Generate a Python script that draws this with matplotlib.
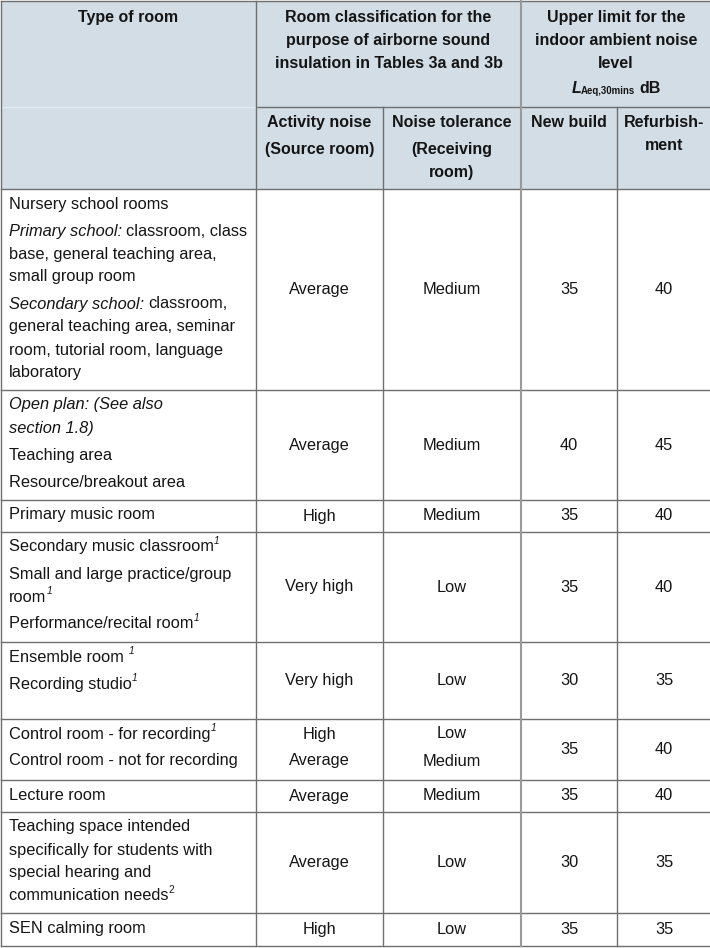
import matplotlib
matplotlib.use("Agg")
import matplotlib.pyplot as plt

## table content -------------------------------------------------------
## each room cell: list of paragraphs, paragraph: list of lines,
## line: list of (text, style) with style n=normal, i=italic,
## si=superscript italic, su=superscript upright
room_types = [
    [[[("Nursery school rooms", "n")]],
     [[("Primary school:", "i"), (" classroom, class", "n")],
      [("base, general teaching area,", "n")],
      [("small group room", "n")]],
     [[("Secondary school:", "i"), (" classroom,", "n")],
      [("general teaching area, seminar", "n")],
      [("room, tutorial room, language", "n")],
      [("laboratory", "n")]]],
    [[[("Open plan: (See also", "i")],
      [("section 1.8)", "i")]],
     [[("Teaching area", "n")]],
     [[("Resource/breakout area", "n")]]],
    [[[("Primary music room", "n")]]],
    [[[("Secondary music classroom", "n"), ("1", "si")]],
     [[("Small and large practice/group", "n")],
      [("room", "n"), ("1", "si")]],
     [[("Performance/recital room", "n"), ("1", "si")]]],
    [[[("Ensemble room ", "n"), ("1", "si")]],
     [[("Recording studio", "n"), ("1", "si")]]],
    [[[("Control room - for recording", "n"), ("1", "si")]],
     [[("Control room - not for recording", "n")]]],
    [[[("Lecture room", "n")]]],
    [[[("Teaching space intended", "n")],
      [("specifically for students with", "n")],
      [("special hearing and", "n")],
      [("communication needs", "n"), ("2", "su")]]],
    [[[("SEN calming room", "n")]]],
]
activity_noise = ["Average", "Average", "High", "Very high", "Very high",
                  ["High", "Average"], "Average", "Average", "High"]
noise_tolerance = ["Medium", "Medium", "Medium", "Low", "Low",
                   ["Low", "Medium"], "Medium", "Low", "Low"]
new_build = [35, 40, 35, 35, 30, 35, 35, 30, 35]
refurbishment = [40, 45, 40, 40, 35, 40, 40, 35, 35]

head_room = ["Type of room"]
head_class = ["Room classification for the", "purpose of airborne sound",
              "insulation in Tables 3a and 3b"]
head_limit = ["Upper limit for the", "indoor ambient noise", "level"]
head_sub = [[["Activity noise"], ["(Source room)"]],
            [["Noise tolerance"], ["(Receiving", "room)"]],
            [["New build"]],
            [["Refurbish-", "ment"]]]

## layout (pixels) -------------------------------------------------------
W, H = 710, 948
col_edges = [1, 256, 383, 521, 617, 711]
head_mid = 107
row_edges = [189, 390, 500, 532, 642, 719, 780, 812, 913, 946]
FS = 11.8
FS_B = 11.5
LINE = 23
PARA = 27
TXT = "#151515"
HEAD_BG = "#d2dde6"
GRID = "#6f6f6f"
FONT = "Liberation Sans"

fig = plt.figure(figsize=(W / 100, H / 100), dpi=100)
ax = fig.add_axes([0, 0, 1, 1])
ax.set_xlim(0, W)
ax.set_ylim(H, 0)
ax.axis("off")
renderer = fig.canvas.get_renderer()


def seg_props(style):
    p = dict(fontsize=FS, color=TXT, va="center", ha="left", family=FONT)
    dy = 0
    if style == "i":
        p["style"] = "italic"
    elif style in ("si", "su"):
        p["fontsize"] = FS * 0.62
        dy = -6
        if style == "si":
            p["style"] = "italic"
    return p, dy


def space_width(fs, **kw):
    a = ax.text(0, 0, "a a", fontsize=fs, family=FONT, **kw)
    b = ax.text(0, 0, "aa", fontsize=fs, family=FONT, **kw)
    w = a.get_window_extent(renderer).width - b.get_window_extent(renderer).width
    a.remove()
    b.remove()
    return w


SP = space_width(FS)


def draw_line(x, y, segs):
    # mixed-style line, pieces placed one after the other
    for txt, style in segs:
        lead = len(txt) - len(txt.lstrip(" "))
        trail = len(txt) - len(txt.rstrip(" "))
        x += lead * SP
        p, dy = seg_props(style)
        t = ax.text(x, y + dy, txt.strip(" "), **p)
        x += t.get_window_extent(renderer).width + trail * SP
    return x


## header background and cells
ax.add_patch(plt.Rectangle((col_edges[0], 1), col_edges[-1] - col_edges[0],
                           row_edges[0] - 1, color=HEAD_BG, lw=0, zorder=0))

hb = dict(fontsize=FS_B, color=TXT, va="center", ha="center", family=FONT,
          weight="bold")
cx0 = (col_edges[0] + col_edges[1]) / 2
for k, s in enumerate(head_room):
    ax.text(cx0, 17 + k * LINE, s, **hb)
cx12 = (col_edges[1] + col_edges[3]) / 2
for k, s in enumerate(head_class):
    ax.text(cx12, 17 + k * LINE, s, **hb)
cx34 = (col_edges[3] + col_edges[5]) / 2
for k, s in enumerate(head_limit):
    ax.text(cx34, 17 + k * LINE, s, **hb)

# L_Aeq,30mins dB
ly = 17 + 2 * LINE + 25
pieces = [("L", dict(style="italic"), 0, FS_B),
          ("Aeq,30mins", {}, 3, FS_B * 0.6),
          ("dB", {}, 0, FS_B)]
objs = []
x = 0
for txt, extra, dy, fs in pieces:
    t = ax.text(x, ly + dy, txt, fontsize=fs, color=TXT, va="center",
                ha="left", family=FONT, weight="bold", **extra)
    w = t.get_window_extent(renderer).width
    objs.append((t, x, dy))
    x += w
    if txt == "Aeq,30mins":
        x += 4
total = x
for t, xo, dy in objs:
    t.set_position((cx34 - total / 2 + xo, ly + dy))

for c, paras in enumerate(head_sub):
    cx = (col_edges[c + 1] + col_edges[c + 2]) / 2
    y = 122
    for pi, para in enumerate(paras):
        if pi > 0:
            y += PARA - LINE
        for s in para:
            ax.text(cx, y, s, **hb)
            y += LINE

## body rows
body = dict(fontsize=FS, color=TXT, va="center", ha="center", family=FONT)
for r in range(len(room_types)):
    top, bot = row_edges[r], row_edges[r + 1]
    y = top + 15
    for pi, para in enumerate(room_types[r]):
        if pi > 0:
            y += PARA - LINE
        for line in para:
            draw_line(9, y, line)
            y += LINE
    mid = (top + bot) / 2
    cols = [activity_noise[r], noise_tolerance[r], str(new_build[r]),
            str(refurbishment[r])]
    for c, val in enumerate(cols):
        cx = (col_edges[c + 1] + col_edges[c + 2]) / 2
        if isinstance(val, list):
            for k, v in enumerate(val):
                ax.text(cx, top + 15 + k * PARA, v, **body)
        else:
            ax.text(cx, mid, val, **body)

## grid lines
lw = 1.0
ax.plot([col_edges[0], col_edges[-1]], [1, 1], color=GRID, lw=lw, clip_on=False)
ax.plot([col_edges[1], col_edges[-1]], [head_mid, head_mid], color=GRID, lw=lw)
ax.plot([col_edges[0], col_edges[1]], [head_mid, head_mid], color="#e4eaee", lw=lw)
for yy in row_edges:
    ax.plot([col_edges[0], col_edges[-1]], [yy, yy], color=GRID, lw=lw,
            clip_on=False)
for i, xx in enumerate(col_edges):
    y0 = head_mid if i in (2, 4) else 1
    col = "#9a9a9a" if i == 3 else GRID
    ax.plot([xx, xx], [y0, row_edges[-1]], color=col,
            lw=1.5 if i == 3 else lw, clip_on=False)

fig.savefig("out.png", dpi=100)
